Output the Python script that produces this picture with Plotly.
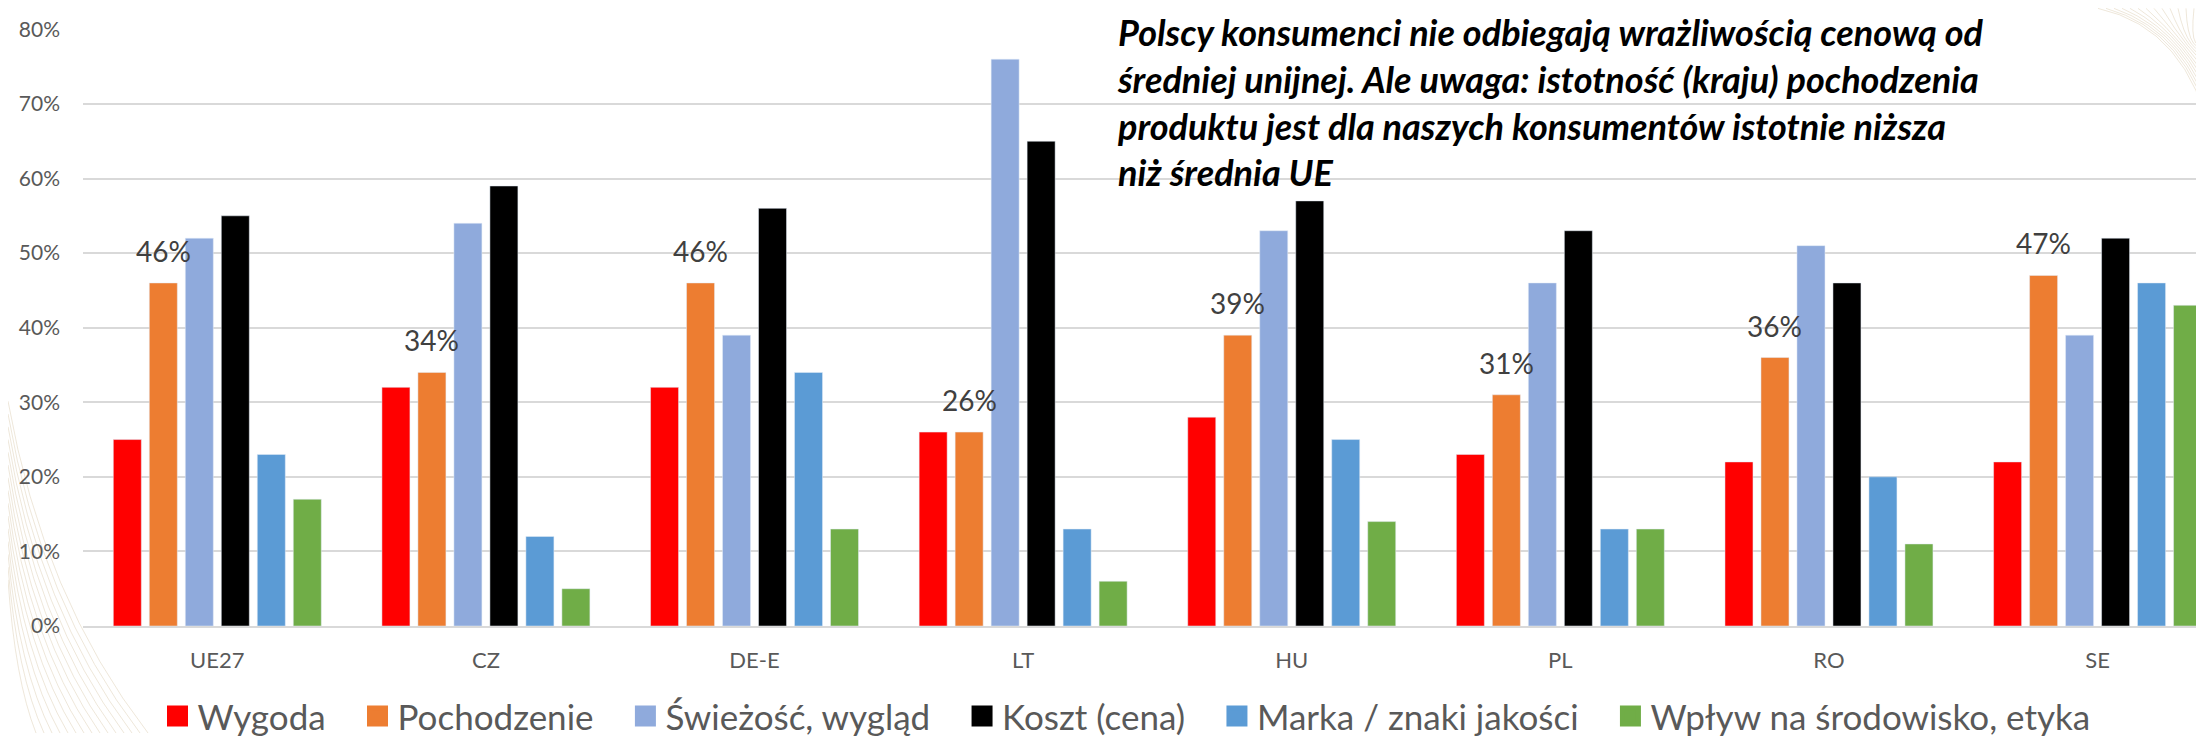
import plotly.graph_objects as go

# ── Data ────────────────────────────────────────────────────────────────────
countries = ["UE27", "CZ", "DE-E", "LT", "HU", "PL", "RO", "SE"]

series_names = [
    "Wygoda",
    "Pochodzenie",
    "Świeżość, wygląd",
    "Koszt (cena)",
    "Marka / znaki jakości",
    "Wpływ na środowisko, etyka",
]

wygoda      = [0.25, 0.32, 0.32, 0.26, 0.28, 0.23, 0.22, 0.22]
pochodzenie = [0.46, 0.34, 0.46, 0.26, 0.39, 0.31, 0.36, 0.47]
swiezosc    = [0.52, 0.54, 0.39, 0.76, 0.53, 0.46, 0.51, 0.39]
koszt       = [0.55, 0.59, 0.56, 0.65, 0.57, 0.53, 0.46, 0.52]
marka       = [0.23, 0.12, 0.34, 0.13, 0.25, 0.13, 0.20, 0.46]
srodowisko  = [0.17, 0.05, 0.13, 0.06, 0.14, 0.13, 0.11, 0.43]

y_ticks = [0, 0.1, 0.2, 0.3, 0.4, 0.5, 0.6, 0.7, 0.8]

title_lines = [
    "Polscy konsumenci nie odbiegają wrażliwością cenową od",
    "średniej unijnej. Ale uwaga: istotność (kraju) pochodzenia",
    "produktu jest dla naszych konsumentów istotnie niższa",
    "niż średnia UE",
]

# ── Style ───────────────────────────────────────────────────────────────────
COLORS = ["#ff0000", "#ed7d31", "#8faadc", "#000000", "#5b9bd5", "#70ad47"]
FONT = "Lato, 'Open Sans', sans-serif"
GRID = "#d9d9d9"
TXT = "#595959"

W, H = 2204, 738
PL, PR, PT, PB = 75, 0, 21, 109          # plot area in pixels
BARGAP, GROUPGAP = 0.196, 0.222
X_MAX = 7.426                            # right end of category axis (chart is cut at the edge)

plot_w = W - PL - PR
plot_h = H - PT - PB


def to_paper(px, py):
    return (px - PL) / plot_w, (H - PB - py) / plot_h


fig = go.Figure()

all_series = [wygoda, pochodzenie, swiezosc, koszt, marka, srodowisko]
for name, vals, col in zip(series_names, all_series, COLORS):
    fig.add_trace(go.Bar(
        x=countries, y=vals, name=name, marker_color=col,
        showlegend=False,
    ))
    # legend-only proxy so the square is as large as in the original
    fig.add_trace(go.Scatter(
        x=[None], y=[None], mode="markers", name=name + "\u00a0" * 3,
        marker=dict(symbol="square", size=16, color=col, line=dict(color=col, width=5)),
    ))

# value labels over the "Pochodzenie" bars
n = len(series_names)
slot = (1 - BARGAP) / n
orange_off = -(1 - BARGAP) / 2 + slot * 1.5
for i, v in enumerate(pochodzenie):
    fig.add_annotation(
        x=i + orange_off, y=v, text=f"{v * 100:.0f}%", showarrow=False,
        yanchor="middle", yshift=32,
        font=dict(family=FONT, size=28, color="#404040"),
    )

# headline
tx, ty = to_paper(1108, 1)
fig.add_annotation(
    xref="paper", yref="paper", x=tx, y=ty, xanchor="left", yanchor="top",
    text="<br>".join(title_lines), align="left", showarrow=False, borderpad=0,
    font=dict(family=FONT, size=36, color="#000000", weight="bold", style="italic"),
)

# faint slide background strokes (bottom-left and top-right corners)
shapes = []
for k in range(15):
    x0, y0 = to_paper(0, 400 + 13 * k)
    x1, y1 = to_paper(140 - 8 * k, 738)
    cx, cy = to_paper((140 - 8 * k) * 0.25, 600 + 6 * k)
    shapes.append(dict(type="path", xref="paper", yref="paper", layer="below",
                       path=f"M {x0},{y0} Q {cx},{cy} {x1},{y1}",
                       line=dict(color="rgba(205,185,150,0.35)", width=1)))
for k in range(13):
    x0, y0 = to_paper(2090 + 8 * k, 0)
    x1, y1 = to_paper(2204, 135 - 9 * k)
    cx, cy = to_paper(2180, 20 + 3 * k)
    shapes.append(dict(type="path", xref="paper", yref="paper", layer="below",
                       path=f"M {x0},{y0} Q {cx},{cy} {x1},{y1}",
                       line=dict(color="rgba(205,185,150,0.35)", width=1)))

lx, ly = to_paper(1132, 721)

fig.update_layout(
    width=W, height=H,
    margin=dict(l=PL, r=PR, t=PT, b=PB, pad=0),
    paper_bgcolor="#ffffff",
    plot_bgcolor="rgba(0,0,0,0)",
    barmode="group", bargap=BARGAP, bargroupgap=GROUPGAP,
    font=dict(family=FONT, color=TXT),
    shapes=shapes,
    legend=dict(
        orientation="h", x=lx, y=ly, xanchor="center", yanchor="middle",
        font=dict(family=FONT, size=35, color=TXT),
        bgcolor="rgba(0,0,0,0)", itemclick=False,
    ),
    xaxis=dict(
        range=[-0.5, X_MAX], showgrid=False, showline=True,
        linecolor=GRID, linewidth=2, ticks="", zeroline=False,
        tickfont=dict(family=FONT, size=22, color=TXT), ticklabelstandoff=14,
    ),
    yaxis=dict(
        range=[0, 0.8005], tickvals=y_ticks, tickformat=".0%",
        showgrid=True, gridcolor=GRID, gridwidth=2, zeroline=False,
        showline=False, ticks="",
        tickfont=dict(family=FONT, size=21, color=TXT), ticklabelstandoff=22,
    ),
)

fig.write_html("out.html")
